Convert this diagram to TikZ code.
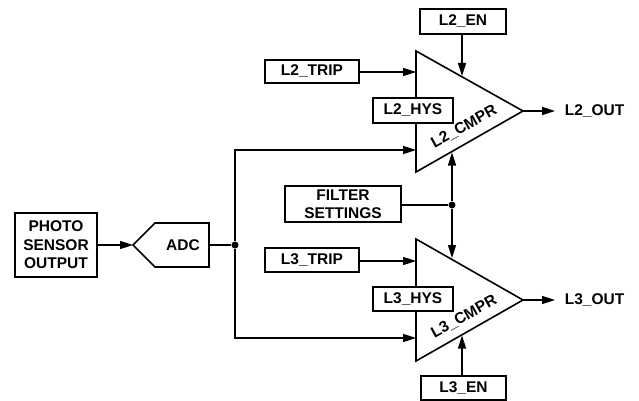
\documentclass[tikz,border=0pt]{standalone}
\usepackage{fontspec}
\setmainfont{Liberation Sans}
\usetikzlibrary{arrows.meta,calc}
\begin{document}
\begin{tikzpicture}[x=1pt,y=-1pt,line width=1.6pt,
  txt/.style={font=\bfseries\fontsize{15.5}{18.5}\selectfont},
  box/.style={txt,draw,fill=white,inner sep=0pt,align=center},
  lbl/.style={txt,inner sep=0pt},
  arr/.style={-{Triangle[length=13pt,width=8pt]}},
  dot/.style={circle,fill,inner sep=0pt,minimum size=7pt}]
\useasboundingbox (0,0) rectangle (639,401);

% comparators (triangles)
\coordinate (t2a) at (416,51);
\coordinate (t2b) at (416,172);
\coordinate (t2c) at (523,111);
\coordinate (t3a) at (416,239);
\coordinate (t3b) at (416,361);
\coordinate (t3c) at (523,300);
\draw[line join=miter] (t2a) -- (t2c) -- (t2b) -- cycle;
\draw[line join=miter] (t3a) -- (t3c) -- (t3b) -- cycle;

% boxes
\node[box,minimum width=86pt,minimum height=25pt] (l2en) at (463,21.5) {L2\_EN};
\node[box,minimum width=94pt,minimum height=23pt] (l2trip) at (312,71.5) {L2\_TRIP};
\node[box,minimum width=80pt,minimum height=25pt] (l2hys) at (413,110.5) {L2\_HYS};
\node[box,minimum width=116pt,minimum height=36pt] (filt) at (343,204) {FILTER\\SETTINGS};
\node[box,minimum width=94pt,minimum height=24pt] (l3trip) at (312,260) {L3\_TRIP};
\node[box,minimum width=80pt,minimum height=24pt] (l3hys) at (413,299) {L3\_HYS};
\node[box,minimum width=85pt,minimum height=24pt] (l3en) at (463.5,388) {L3\_EN};
\node[box,minimum width=82pt,minimum height=64pt] (photo) at (56,245) {PHOTO\\SENSOR\\OUTPUT};

% ADC
\coordinate (adcl) at (133,245);
\coordinate (adcr) at (209,245);
\draw[line join=miter] (adcl) -- (155,223) -- (209,223) -- (209,267) -- (155,267) -- cycle;
\node[lbl] (adc) at (183,245) {ADC};

% comparator labels
\node[lbl,rotate=29] (c2) at (464,127) {L2\_CMPR};
\node[lbl,rotate=29] (c3) at (464,317) {L3\_CMPR};

% junctions
\node[dot] (j1) at (235,245) {};
\node[dot] (j2) at (452,205) {};

% input points on the triangles
\coordinate (t2trip) at (416,72);
\coordinate (t2sig) at (416,150);
\coordinate (t2en) at (462,76);
\coordinate (t2flt) at (452,152.5);
\coordinate (t3trip) at (416,261);
\coordinate (t3sig) at (416,338);
\coordinate (t3flt) at (452,258);
\coordinate (t3en) at (462,335.5);
\coordinate (o2) at (555,111);
\coordinate (o3) at (555,300);

% connectors
\draw[arr] (photo.east |- adcl) -- (adcl);
\draw (adcr) -- (j1);
\draw[arr] (j1) |- (t2sig);
\draw[arr] (j1) |- (t3sig);
\draw (filt.east |- j2) -- (j2);
\draw[arr] (j2) -- (t2flt);
\draw[arr] (j2) -- (t3flt);
\draw[arr] (l2trip.east |- t2trip) -- (t2trip);
\draw[arr] (l3trip.east |- t3trip) -- (t3trip);
\draw[arr] (l2en.south -| t2en) -- (t2en);
\draw[arr] (l3en.north -| t3en) -- (t3en);
\draw[arr] (t2c) -- (o2);
\draw[arr] (t3c) -- (o3);

% outputs
\node[lbl,anchor=west] (out2) at (564,111) {L2\_OUT};
\node[lbl,anchor=west] (out3) at (564,300) {L3\_OUT};
\end{tikzpicture}
\end{document}
